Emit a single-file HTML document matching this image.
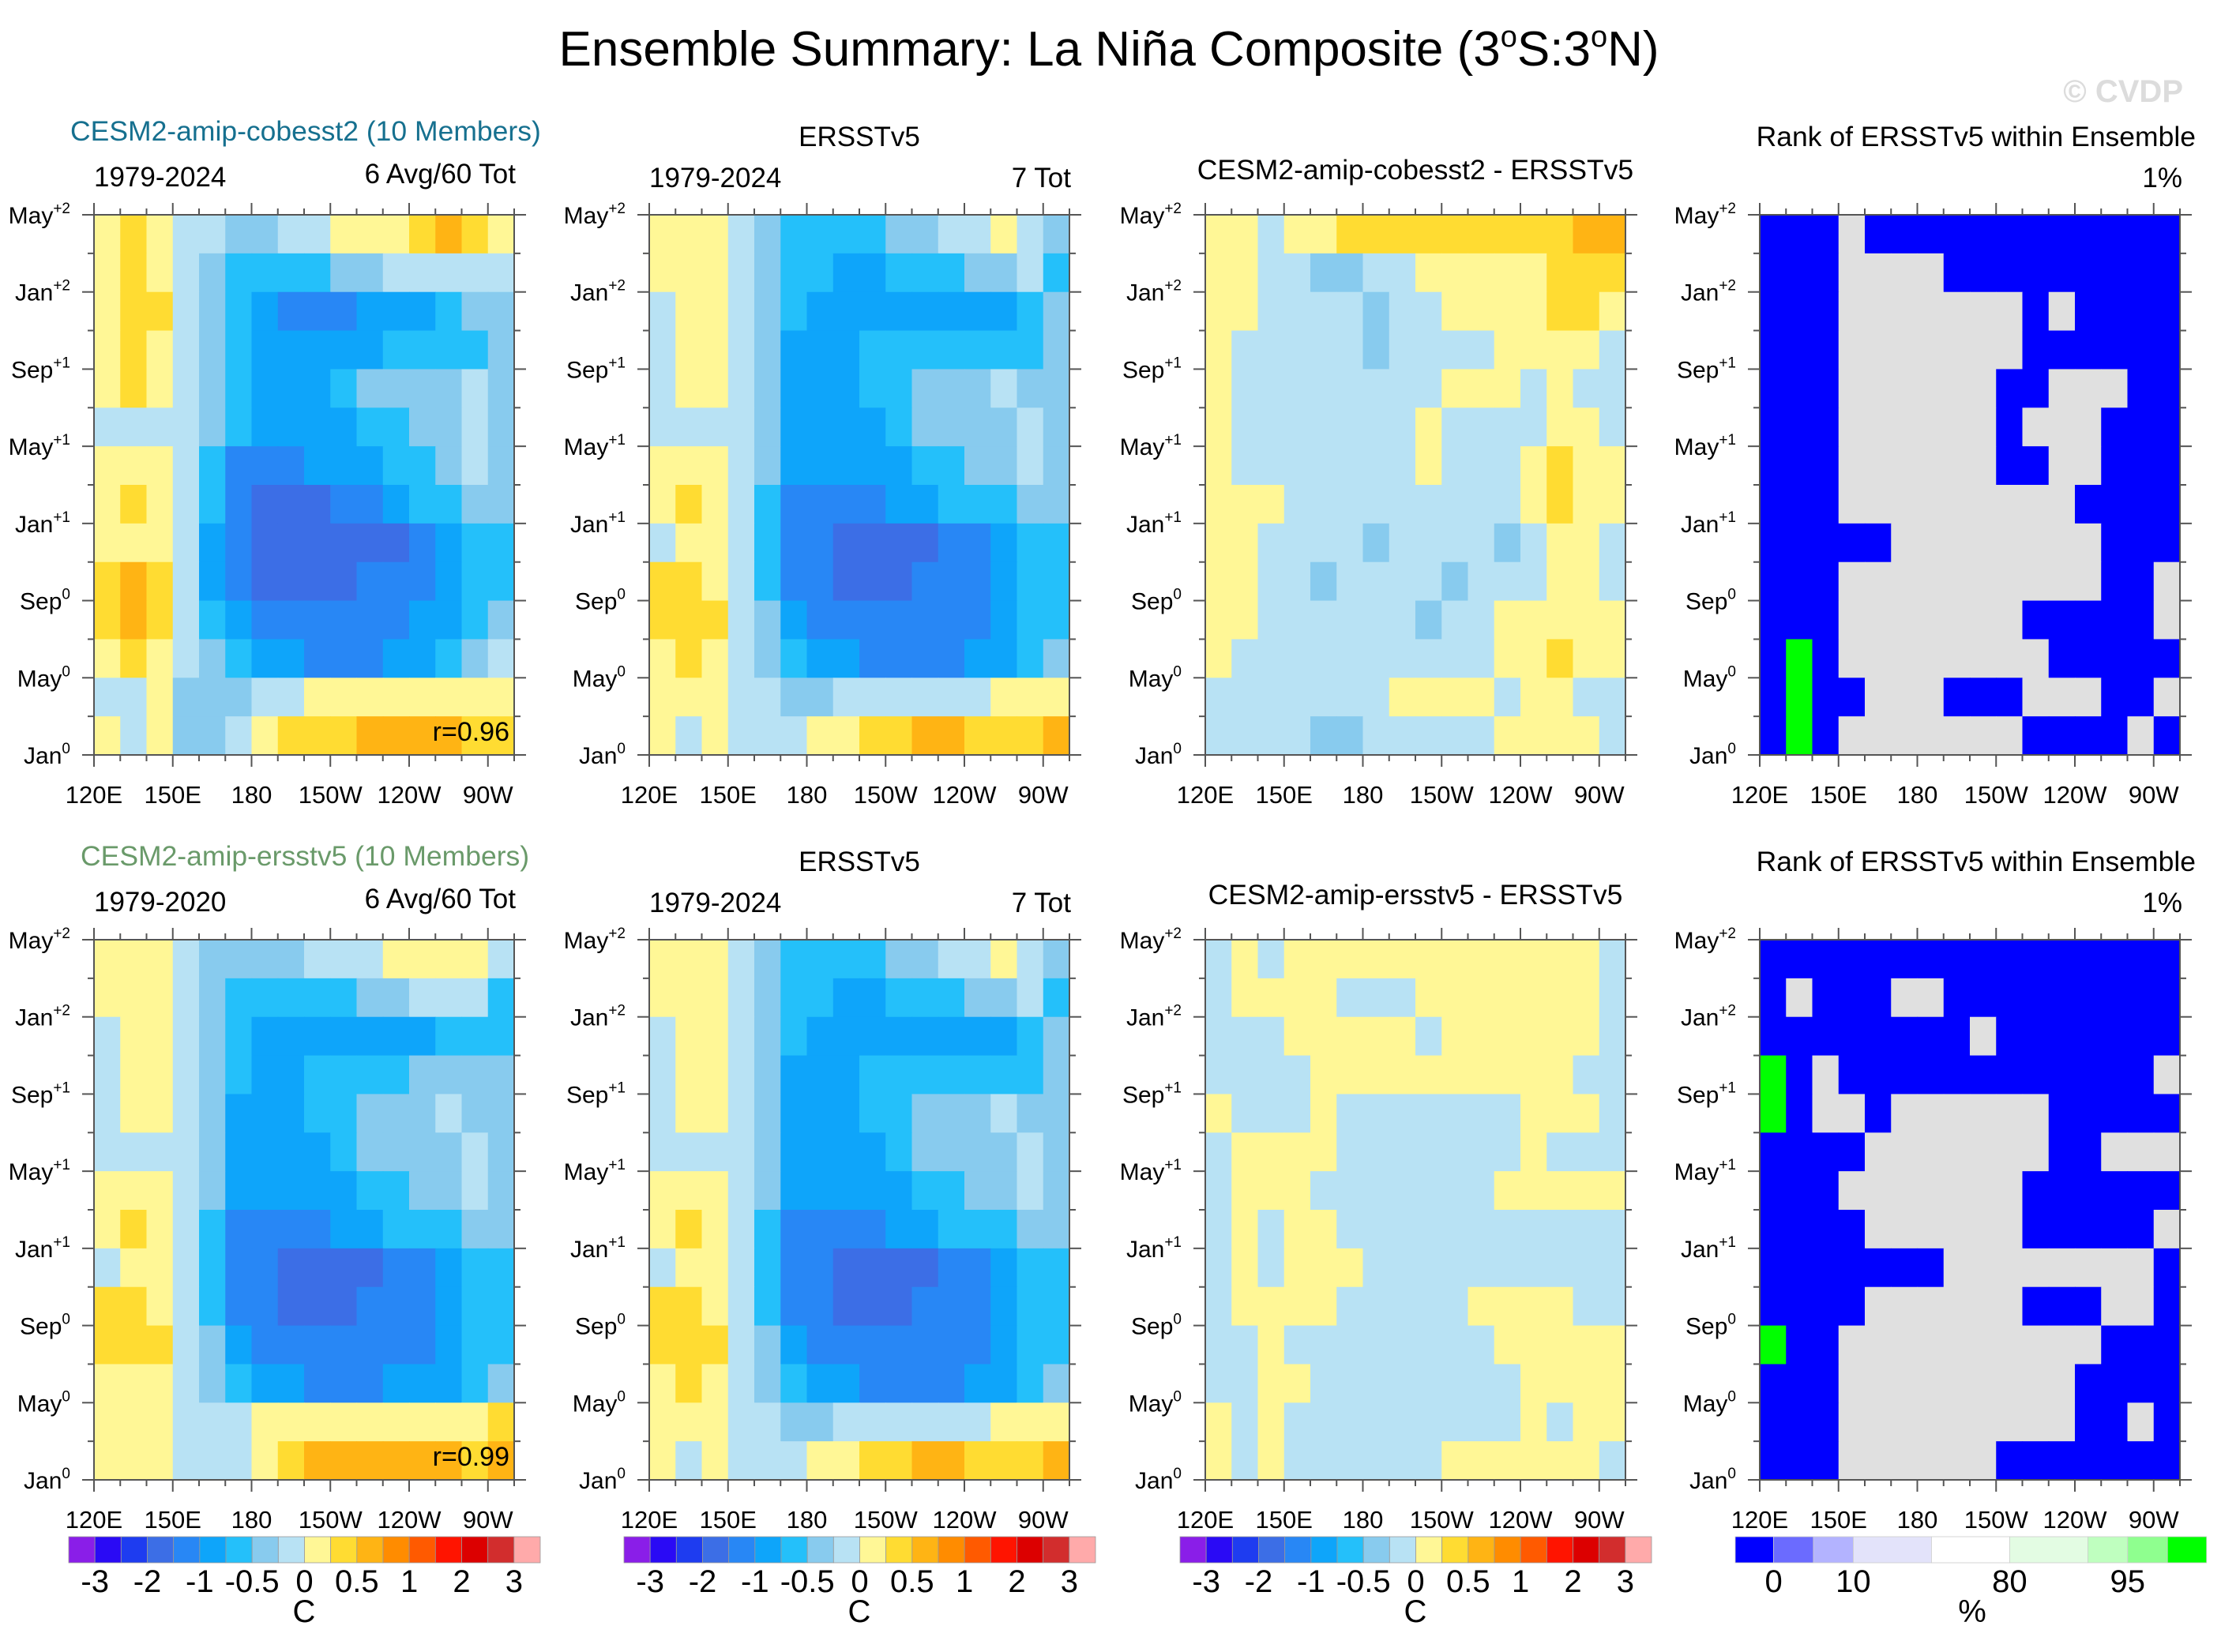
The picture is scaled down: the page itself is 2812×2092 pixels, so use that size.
<!DOCTYPE html>
<html><head><meta charset="utf-8"><title>Ensemble Summary: La Niña Composite</title>
<style>
html,body{margin:0;padding:0;background:#fff;}
svg{display:block;font-family:"Liberation Sans",sans-serif;}
</style></head>
<body>
<svg id="fig" width="2812" height="2092" viewBox="0 0 2812 2092" xmlns="http://www.w3.org/2000/svg">
<rect x="0" y="0" width="2812" height="2092" fill="#fff"/>
<text x="1404" y="83" font-size="62" text-anchor="middle">Ensemble Summary: La Niña Composite (3<tspan font-size="38" dy="-24">o</tspan><tspan dy="24">S:3</tspan><tspan font-size="38" dy="-24">o</tspan><tspan dy="24">N)</tspan></text>
<text x="2764" y="129" font-size="40" font-weight="bold" fill="#dcdcdc" text-anchor="end">© CVDP</text>
<g id="layer"></g>
</svg>
<script>
// ---- data: grid columns (lon centres) and rows (month centres, top→bottom) ----
const lonCenters=[125,135,145,155,165,175,185,195,205,215,225,235,245,255,265,275];
const monthCenters=[27,25,23,21,19,17,15,13,11,9,7,5,3,1];
const tempLevels=[-3,-2.5,-2,-1.5,-1,-0.75,-0.5,-0.25,0,0.25,0.5,0.75,1,1.5,2,2.5,3];
const tempLabelIdx=[0,2,4,6,8,10,12,14,16];
const rankLevels=[1,5,10,50,80,90,95,99];
const rankLabels=["0","10","80","95"];
const xTickLabels=["120E","150E","180","150W","120W","90W"];
const xTickLons=[120,150,180,210,240,270];
const yTickLabels=[["Jan","0"],["May","0"],["Sep","0"],["Jan","+1"],["May","+1"],["Sep","+1"],["Jan","+2"],["May","+2"]];
const yTickMonths=[0,4,8,12,16,20,24,28];

const modelCob=[
[0.1,0.4,0.1,-0.1,-0.1,-0.4,-0.4,-0.1,-0.1,0.1,0.1,0.1,0.4,0.6,0.4,0.1],
[0.1,0.4,0.1,-0.1,-0.4,-0.6,-0.6,-0.6,-0.6,-0.4,-0.4,-0.1,-0.1,-0.1,-0.1,-0.1],
[0.1,0.4,0.4,-0.1,-0.4,-0.6,-0.9,-1.2,-1.2,-1.2,-0.9,-0.9,-0.9,-0.6,-0.4,-0.4],
[0.1,0.4,0.1,-0.1,-0.4,-0.6,-0.9,-0.9,-0.9,-0.9,-0.9,-0.6,-0.6,-0.6,-0.6,-0.4],
[0.1,0.4,0.1,-0.1,-0.4,-0.6,-0.9,-0.9,-0.9,-0.6,-0.4,-0.4,-0.4,-0.4,-0.1,-0.4],
[-0.1,-0.1,-0.1,-0.1,-0.4,-0.6,-0.9,-0.9,-0.9,-0.9,-0.6,-0.6,-0.4,-0.4,-0.1,-0.4],
[0.1,0.1,0.1,-0.1,-0.6,-1.2,-1.2,-1.2,-0.9,-0.9,-0.9,-0.6,-0.6,-0.4,-0.1,-0.4],
[0.1,0.4,0.1,-0.1,-0.6,-1.2,-1.7,-1.7,-1.7,-1.2,-1.2,-0.9,-0.6,-0.6,-0.4,-0.4],
[0.1,0.1,0.1,-0.1,-0.9,-1.2,-1.7,-1.7,-1.7,-1.7,-1.7,-1.7,-1.2,-0.9,-0.6,-0.6],
[0.4,0.6,0.4,-0.1,-0.9,-1.2,-1.7,-1.7,-1.7,-1.7,-1.2,-1.2,-1.2,-0.9,-0.6,-0.6],
[0.4,0.6,0.4,-0.1,-0.6,-0.9,-1.2,-1.2,-1.2,-1.2,-1.2,-1.2,-0.9,-0.9,-0.6,-0.4],
[0.1,0.4,0.1,-0.1,-0.4,-0.6,-0.9,-0.9,-1.2,-1.2,-1.2,-0.9,-0.9,-0.6,-0.4,-0.1],
[-0.1,-0.1,0.1,-0.4,-0.4,-0.4,-0.1,-0.1,0.1,0.1,0.1,0.1,0.1,0.1,0.1,0.1],
[0.1,-0.1,0.1,-0.4,-0.4,-0.1,0.1,0.4,0.4,0.4,0.6,0.6,0.6,0.6,0.4,0.4]];

const obsErsst=[
[0.1,0.1,0.1,-0.1,-0.4,-0.6,-0.6,-0.6,-0.6,-0.4,-0.4,-0.1,-0.1,0.1,-0.1,-0.4],
[0.1,0.1,0.1,-0.1,-0.4,-0.6,-0.6,-0.9,-0.9,-0.6,-0.6,-0.6,-0.4,-0.4,-0.1,-0.6],
[-0.1,0.1,0.1,-0.1,-0.4,-0.6,-0.9,-0.9,-0.9,-0.9,-0.9,-0.9,-0.9,-0.9,-0.6,-0.4],
[-0.1,0.1,0.1,-0.1,-0.4,-0.9,-0.9,-0.9,-0.6,-0.6,-0.6,-0.6,-0.6,-0.6,-0.6,-0.4],
[-0.1,0.1,0.1,-0.1,-0.4,-0.9,-0.9,-0.9,-0.6,-0.6,-0.4,-0.4,-0.4,-0.1,-0.4,-0.4],
[-0.1,-0.1,-0.1,-0.1,-0.4,-0.9,-0.9,-0.9,-0.9,-0.6,-0.4,-0.4,-0.4,-0.4,-0.1,-0.4],
[0.1,0.1,0.1,-0.1,-0.4,-0.9,-0.9,-0.9,-0.9,-0.9,-0.6,-0.6,-0.4,-0.4,-0.1,-0.4],
[0.1,0.4,0.1,-0.1,-0.6,-1.2,-1.2,-1.2,-1.2,-0.9,-0.9,-0.6,-0.6,-0.6,-0.4,-0.4],
[-0.1,0.1,0.1,-0.1,-0.6,-1.2,-1.2,-1.7,-1.7,-1.7,-1.7,-1.2,-1.2,-0.9,-0.6,-0.6],
[0.4,0.4,0.1,-0.1,-0.6,-1.2,-1.2,-1.7,-1.7,-1.7,-1.2,-1.2,-1.2,-0.9,-0.6,-0.6],
[0.4,0.4,0.4,-0.1,-0.4,-0.9,-1.2,-1.2,-1.2,-1.2,-1.2,-1.2,-1.2,-0.9,-0.6,-0.6],
[0.1,0.4,0.1,-0.1,-0.4,-0.6,-0.9,-0.9,-1.2,-1.2,-1.2,-1.2,-0.9,-0.9,-0.6,-0.4],
[0.1,0.1,0.1,-0.1,-0.1,-0.4,-0.4,-0.1,-0.1,-0.1,-0.1,-0.1,-0.1,0.1,0.1,0.1],
[0.1,-0.1,0.1,-0.1,-0.1,-0.1,0.1,0.1,0.4,0.4,0.6,0.6,0.4,0.4,0.4,0.6]];

const diffCob=[
[0.1,0.1,-0.1,0.1,0.1,0.4,0.4,0.4,0.4,0.4,0.4,0.4,0.4,0.4,0.6,0.6],
[0.1,0.1,-0.1,-0.1,-0.4,-0.4,-0.1,-0.1,0.1,0.1,0.1,0.1,0.1,0.4,0.4,0.4],
[0.1,0.1,-0.1,-0.1,-0.1,-0.1,-0.4,-0.1,-0.1,0.1,0.1,0.1,0.1,0.4,0.4,0.1],
[0.1,-0.1,-0.1,-0.1,-0.1,-0.1,-0.4,-0.1,-0.1,-0.1,-0.1,0.1,0.1,0.1,0.1,-0.1],
[0.1,-0.1,-0.1,-0.1,-0.1,-0.1,-0.1,-0.1,-0.1,0.1,0.1,0.1,-0.1,0.1,-0.1,-0.1],
[0.1,-0.1,-0.1,-0.1,-0.1,-0.1,-0.1,-0.1,0.1,-0.1,-0.1,-0.1,-0.1,0.1,0.1,-0.1],
[0.1,-0.1,-0.1,-0.1,-0.1,-0.1,-0.1,-0.1,0.1,-0.1,-0.1,-0.1,0.1,0.4,0.1,0.1],
[0.1,0.1,0.1,-0.1,-0.1,-0.1,-0.1,-0.1,-0.1,-0.1,-0.1,-0.1,0.1,0.4,0.1,0.1],
[0.1,0.1,-0.1,-0.1,-0.1,-0.1,-0.4,-0.1,-0.1,-0.1,-0.1,-0.4,-0.1,0.1,0.1,-0.1],
[0.1,0.1,-0.1,-0.1,-0.4,-0.1,-0.1,-0.1,-0.1,-0.4,-0.1,-0.1,-0.1,0.1,0.1,-0.1],
[0.1,0.1,-0.1,-0.1,-0.1,-0.1,-0.1,-0.1,-0.4,-0.1,-0.1,0.1,0.1,0.1,0.1,0.1],
[0.1,-0.1,-0.1,-0.1,-0.1,-0.1,-0.1,-0.1,-0.1,-0.1,-0.1,0.1,0.1,0.4,0.1,0.1],
[-0.1,-0.1,-0.1,-0.1,-0.1,-0.1,-0.1,0.1,0.1,0.1,0.1,-0.1,0.1,0.1,-0.1,-0.1],
[-0.1,-0.1,-0.1,-0.1,-0.4,-0.4,-0.1,-0.1,-0.1,-0.1,-0.1,0.1,0.1,0.1,0.1,-0.1]];

const rankCob=[
[0.5,0.5,0.5,null,0.5,0.5,0.5,0.5,0.5,0.5,0.5,0.5,0.5,0.5,0.5,0.5],
[0.5,0.5,0.5,null,null,null,null,0.5,0.5,0.5,0.5,0.5,0.5,0.5,0.5,0.5],
[0.5,0.5,0.5,null,null,null,null,null,null,null,0.5,null,0.5,0.5,0.5,0.5],
[0.5,0.5,0.5,null,null,null,null,null,null,null,0.5,0.5,0.5,0.5,0.5,0.5],
[0.5,0.5,0.5,null,null,null,null,null,null,0.5,0.5,null,null,null,0.5,0.5],
[0.5,0.5,0.5,null,null,null,null,null,null,0.5,null,null,null,0.5,0.5,0.5],
[0.5,0.5,0.5,null,null,null,null,null,null,0.5,0.5,null,null,0.5,0.5,0.5],
[0.5,0.5,0.5,null,null,null,null,null,null,null,null,null,0.5,0.5,0.5,0.5],
[0.5,0.5,0.5,0.5,0.5,null,null,null,null,null,null,null,null,0.5,0.5,0.5],
[0.5,0.5,0.5,null,null,null,null,null,null,null,null,null,null,0.5,0.5,null],
[0.5,0.5,0.5,null,null,null,null,null,null,null,0.5,0.5,0.5,0.5,0.5,null],
[0.5,99.5,0.5,null,null,null,null,null,null,null,null,0.5,0.5,0.5,0.5,0.5],
[0.5,99.5,0.5,0.5,null,null,null,0.5,0.5,0.5,null,null,null,0.5,0.5,null],
[0.5,99.5,0.5,null,null,null,null,null,null,null,0.5,0.5,0.5,0.5,null,0.5]];

const modelErs=[
[0.1,0.1,0.1,-0.1,-0.4,-0.4,-0.4,-0.4,-0.1,-0.1,-0.1,0.1,0.1,0.1,0.1,-0.1],
[0.1,0.1,0.1,-0.1,-0.4,-0.6,-0.6,-0.6,-0.6,-0.6,-0.4,-0.4,-0.1,-0.1,-0.1,-0.6],
[-0.1,0.1,0.1,-0.1,-0.4,-0.6,-0.9,-0.9,-0.9,-0.9,-0.9,-0.9,-0.9,-0.6,-0.6,-0.6],
[-0.1,0.1,0.1,-0.1,-0.4,-0.6,-0.9,-0.9,-0.6,-0.6,-0.6,-0.6,-0.4,-0.4,-0.4,-0.4],
[-0.1,0.1,0.1,-0.1,-0.4,-0.9,-0.9,-0.9,-0.6,-0.6,-0.4,-0.4,-0.4,-0.1,-0.4,-0.4],
[-0.1,-0.1,-0.1,-0.1,-0.4,-0.9,-0.9,-0.9,-0.9,-0.6,-0.4,-0.4,-0.4,-0.4,-0.1,-0.4],
[0.1,0.1,0.1,-0.1,-0.4,-0.9,-0.9,-0.9,-0.9,-0.9,-0.6,-0.6,-0.4,-0.4,-0.1,-0.4],
[0.1,0.4,0.1,-0.1,-0.6,-1.2,-1.2,-1.2,-1.2,-0.9,-0.9,-0.6,-0.6,-0.6,-0.4,-0.4],
[-0.1,0.1,0.1,-0.1,-0.6,-1.2,-1.2,-1.7,-1.7,-1.7,-1.7,-1.2,-1.2,-0.9,-0.6,-0.6],
[0.4,0.4,0.1,-0.1,-0.6,-1.2,-1.2,-1.7,-1.7,-1.7,-1.2,-1.2,-1.2,-0.9,-0.6,-0.6],
[0.4,0.4,0.4,-0.1,-0.4,-0.9,-1.2,-1.2,-1.2,-1.2,-1.2,-1.2,-1.2,-0.9,-0.6,-0.6],
[0.1,0.1,0.1,-0.1,-0.4,-0.6,-0.9,-0.9,-1.2,-1.2,-1.2,-0.9,-0.9,-0.9,-0.6,-0.4],
[0.1,0.1,0.1,-0.1,-0.1,-0.1,0.1,0.1,0.1,0.1,0.1,0.1,0.1,0.1,0.1,0.4],
[0.1,0.1,0.1,-0.1,-0.1,-0.1,0.1,0.4,0.6,0.6,0.6,0.6,0.6,0.6,0.4,0.6]];

const diffErs=[
[-0.1,0.1,-0.1,0.1,0.1,0.1,0.1,0.1,0.1,0.1,0.1,0.1,0.1,0.1,0.1,-0.1],
[-0.1,0.1,0.1,0.1,0.1,-0.1,-0.1,-0.1,0.1,0.1,0.1,0.1,0.1,0.1,0.1,-0.1],
[-0.1,-0.1,-0.1,0.1,0.1,0.1,0.1,0.1,-0.1,0.1,0.1,0.1,0.1,0.1,0.1,-0.1],
[-0.1,-0.1,-0.1,-0.1,0.1,0.1,0.1,0.1,0.1,0.1,0.1,0.1,0.1,0.1,-0.1,-0.1],
[0.1,-0.1,-0.1,-0.1,0.1,-0.1,-0.1,-0.1,-0.1,-0.1,-0.1,-0.1,0.1,0.1,0.1,-0.1],
[-0.1,0.1,0.1,0.1,0.1,-0.1,-0.1,-0.1,-0.1,-0.1,-0.1,-0.1,0.1,-0.1,-0.1,-0.1],
[-0.1,0.1,0.1,0.1,-0.1,-0.1,-0.1,-0.1,-0.1,-0.1,-0.1,0.1,0.1,0.1,0.1,0.1],
[-0.1,0.1,-0.1,0.1,0.1,-0.1,-0.1,-0.1,-0.1,-0.1,-0.1,-0.1,-0.1,-0.1,-0.1,-0.1],
[-0.1,0.1,-0.1,0.1,0.1,0.1,-0.1,-0.1,-0.1,-0.1,-0.1,-0.1,-0.1,-0.1,-0.1,-0.1],
[-0.1,0.1,0.1,0.1,0.1,-0.1,-0.1,-0.1,-0.1,-0.1,0.1,0.1,0.1,0.1,-0.1,-0.1],
[-0.1,-0.1,0.1,-0.1,-0.1,-0.1,-0.1,-0.1,-0.1,-0.1,-0.1,0.1,0.1,0.1,0.1,0.1],
[-0.1,-0.1,0.1,0.1,-0.1,-0.1,-0.1,-0.1,-0.1,-0.1,-0.1,-0.1,0.1,0.1,0.1,0.1],
[0.1,-0.1,0.1,-0.1,-0.1,-0.1,-0.1,-0.1,-0.1,-0.1,-0.1,-0.1,0.1,-0.1,0.1,0.1],
[0.1,-0.1,0.1,-0.1,-0.1,-0.1,-0.1,-0.1,-0.1,0.1,0.1,0.1,0.1,0.1,0.1,-0.1]];

const rankErs=[
[0.5,0.5,0.5,0.5,0.5,0.5,0.5,0.5,0.5,0.5,0.5,0.5,0.5,0.5,0.5,0.5],
[0.5,null,0.5,0.5,0.5,null,null,0.5,0.5,0.5,0.5,0.5,0.5,0.5,0.5,0.5],
[0.5,0.5,0.5,0.5,0.5,0.5,0.5,0.5,null,0.5,0.5,0.5,0.5,0.5,0.5,0.5],
[99.5,0.5,null,0.5,0.5,0.5,0.5,0.5,0.5,0.5,0.5,0.5,0.5,0.5,0.5,null],
[99.5,0.5,null,null,0.5,null,null,null,null,null,null,0.5,0.5,0.5,0.5,0.5],
[0.5,0.5,0.5,0.5,null,null,null,null,null,null,null,0.5,0.5,null,null,null],
[0.5,0.5,0.5,null,null,null,null,null,null,null,0.5,0.5,0.5,0.5,0.5,0.5],
[0.5,0.5,0.5,0.5,null,null,null,null,null,null,0.5,0.5,0.5,0.5,0.5,null],
[0.5,0.5,0.5,0.5,0.5,0.5,0.5,null,null,null,null,null,null,null,null,0.5],
[0.5,0.5,0.5,0.5,null,null,null,null,null,null,0.5,0.5,0.5,null,null,0.5],
[99.5,0.5,0.5,null,null,null,null,null,null,null,null,null,null,0.5,0.5,0.5],
[0.5,0.5,0.5,null,null,null,null,null,null,null,null,null,0.5,0.5,0.5,0.5],
[0.5,0.5,0.5,null,null,null,null,null,null,null,null,null,0.5,0.5,null,0.5],
[0.5,0.5,0.5,null,null,null,null,null,null,0.5,0.5,0.5,0.5,0.5,0.5,0.5]];

// ---- styling (not data) ----
const tempColors=['#8a1ee8','#2a0af5','#1e3cf0','#3c6ee6','#2887f5','#0ea5fa','#24c0fa','#88cbee','#b8e2f4','#fff796','#ffdc32','#ffb414','#ff8c00','#ff5a00','#ff1400','#dc0000','#d22d2d','#ffaaaa'];
const rankColors=['#0000ff','#6b6bff','#b3b3ff','#e3e3fa','#ffffff','#e3fce3','#bfffbf','#8fff8f','#00ff00'];
const rankBoxW=[48.6,50.4,50.4,99,99,99,50.4,50.4,49.5];
const missingColor='#e0e0e0';
const NS='http://www.w3.org/2000/svg';
const layer=document.getElementById('layer');
const PW=532, PH=684;
const colX=[119,822,1526,2228], rowY=[272,1190];

function mk(tag,attrs,parent){const e=document.createElementNS(NS,tag);for(const k in attrs)e.setAttribute(k,attrs[k]);(parent||layer).appendChild(e);return e;}
function xScale(left,lon){return left+(lon-120)/160*PW;}
function yScale(top,m){return top+(28-m)/28*PH;}
function levelIndex(levels,v){let i=0;for(const l of levels){if(v>=l)i++;}return i;}
function tempColor(v){return tempColors[levelIndex(tempLevels,v)];}
function rankColor(v){return v===null?missingColor:rankColors[levelIndex(rankLevels,v)];}

function drawGrid(g,left,top,grid,colorFn,name){
  for(let r=0;r<grid.length;r++){
    for(let c=0;c<grid[r].length;c++){
      const x0=xScale(left,lonCenters[c]-5), x1=xScale(left,lonCenters[c]+5);
      const y0=yScale(top,monthCenters[r]+1), y1=yScale(top,monthCenters[r]-1);
      const cell=mk('rect',{x:x0,y:y0,width:x1-x0+0.6,height:y1-y0+0.6,fill:colorFn(grid[r][c])},g);
      
      
    }
  }
}
function drawAxes(g,left,top){
  const bottom=top+PH,right=left+PW;
  const frame=mk('rect',{x:left,y:top,width:PW,height:PH,fill:'none',stroke:'#555','stroke-width':2},g);
  
  
  for(let lon=120;lon<=280;lon+=10){
    const x=xScale(left,lon); const major=xTickLons.includes(lon); const L=major?15:8;
    mk('line',{x1:x,y1:bottom,x2:x,y2:bottom+L,stroke:'#555','stroke-width':2},g);
    mk('line',{x1:x,y1:top,x2:x,y2:top-L,stroke:'#555','stroke-width':2},g);
  }
  for(let m=0;m<=28;m+=2){
    const y=yScale(top,m); const major=yTickMonths.includes(m); const L=major?15:8;
    mk('line',{x1:left,y1:y,x2:left-L,y2:y,stroke:'#555','stroke-width':2},g);
    mk('line',{x1:right,y1:y,x2:right+L,y2:y,stroke:'#555','stroke-width':2},g);
  }
  xTickLabels.forEach((lab,i)=>{
    const t=mk('text',{x:xScale(left,xTickLons[i]),y:bottom+61,'font-size':31,'text-anchor':'middle'},g);
    t.textContent=lab;
    
    
  });
  yTickLabels.forEach((lab,i)=>{
    const t=mk('text',{x:left-30,y:yScale(top,yTickMonths[i])+11,'font-size':30,'text-anchor':'end'},g);
    const a=mk('tspan',{},t); a.textContent=lab[0];
    const b=mk('tspan',{'font-size':19,dy:-13},t); b.textContent=lab[1];
    
    
  });
}
function txt(x,y,s,size,anchor,fill,name){
  const t=mk('text',{x:x,y:y,'font-size':size,'text-anchor':anchor,fill:fill||'#000'});
  t.textContent=s;
  
  
  return t;
}
function panel(ci,ri,grid,colorFn,name){
  const g=mk('g',{});
  
  
  drawGrid(g,colX[ci],rowY[ri],grid,colorFn,name);
  drawAxes(g,colX[ci],rowY[ri]);
}

panel(0,0,modelCob,tempColor,'panel-cobesst2-composite');
panel(1,0,obsErsst,tempColor,'panel-ersstv5-composite-top');
panel(2,0,diffCob,tempColor,'panel-cobesst2-minus-ersstv5');
panel(3,0,rankCob,rankColor,'panel-rank-cobesst2');
panel(0,1,modelErs,tempColor,'panel-ersstv5-model-composite');
panel(1,1,obsErsst,tempColor,'panel-ersstv5-composite-bottom');
panel(2,1,diffErs,tempColor,'panel-ersstv5model-minus-ersstv5');
panel(3,1,rankErs,rankColor,'panel-rank-ersstv5-model');

// titles
for(let ri=0;ri<2;ri++){
  const o=rowY[ri]-272;
  if(ri===0) txt(89,178+o,'CESM2-amip-cobesst2 (10 Members)',35.5,'start','#16708f','model-title-cobesst2');
  else txt(102,178+o,'CESM2-amip-ersstv5 (10 Members)',35.5,'start','#6a9a6a','model-title-ersstv5');
  txt(119,236+o,ri===0?'1979-2024':'1979-2020',35,'start','#000','model-years');
  txt(653,232+o,'6 Avg/60 Tot',35,'end','#000','model-member-count');
  txt(1088,185+o,'ERSSTv5',35,'middle','#000','obs-title');
  txt(822,237+o,'1979-2024',35,'start','#000','obs-years');
  txt(1356,237+o,'7 Tot',35,'end','#000','obs-count');
  txt(1792,227+o,ri===0?'CESM2-amip-cobesst2 - ERSSTv5':'CESM2-amip-ersstv5 - ERSSTv5',35.5,'middle','#000','difference-title');
  txt(2780,185+o,'Rank of ERSSTv5 within Ensemble',35.5,'end','#000','rank-title');
  txt(2763,237+o,'1%',35,'end','#000','rank-percent-label');
  txt(645,938+o,ri===0?'r=0.96':'r=0.99',34,'end','#000','pattern-correlation');
}

// temperature colorbars
[87,790,1494].forEach((bx,k)=>{
  const g=mk('g',{});
  
  
  const w=(597)/tempColors.length;
  tempColors.forEach((c,i)=>{
    const r=mk('rect',{x:bx+i*w,y:1946,width:w,height:33,fill:c,stroke:'#999','stroke-width':0.8},g);
    
    
  });
  tempLabelIdx.forEach(li=>{
    const t=mk('text',{x:bx+(li+1)*w,y:2016,'font-size':40,'text-anchor':'middle'},g);
    t.textContent=String(tempLevels[li]);
    
    
  });
  const u=mk('text',{x:bx+298,y:2054,'font-size':40,'text-anchor':'middle'},g);
  u.textContent='C';
  
  
});
// rank colorbar
(function(){
  const g=mk('g',{});
  
  
  let x=2197; const bounds=[];
  rankColors.forEach((c,i)=>{
    const r=mk('rect',{x:x,y:1946,width:rankBoxW[i],height:33,fill:c,stroke:'#ccc','stroke-width':0.8},g);
    
    
    x+=rankBoxW[i]; bounds.push(x);
  });
  [0,2,4,6].forEach((bi,j)=>{
    const t=mk('text',{x:bounds[bi],y:2016,'font-size':40,'text-anchor':'middle'},g);
    t.textContent=rankLabels[j];
    
    
  });
  const u=mk('text',{x:2497,y:2054,'font-size':40,'text-anchor':'middle'},g);
  u.textContent='%';
  
  
})();
</script>
</body></html>
